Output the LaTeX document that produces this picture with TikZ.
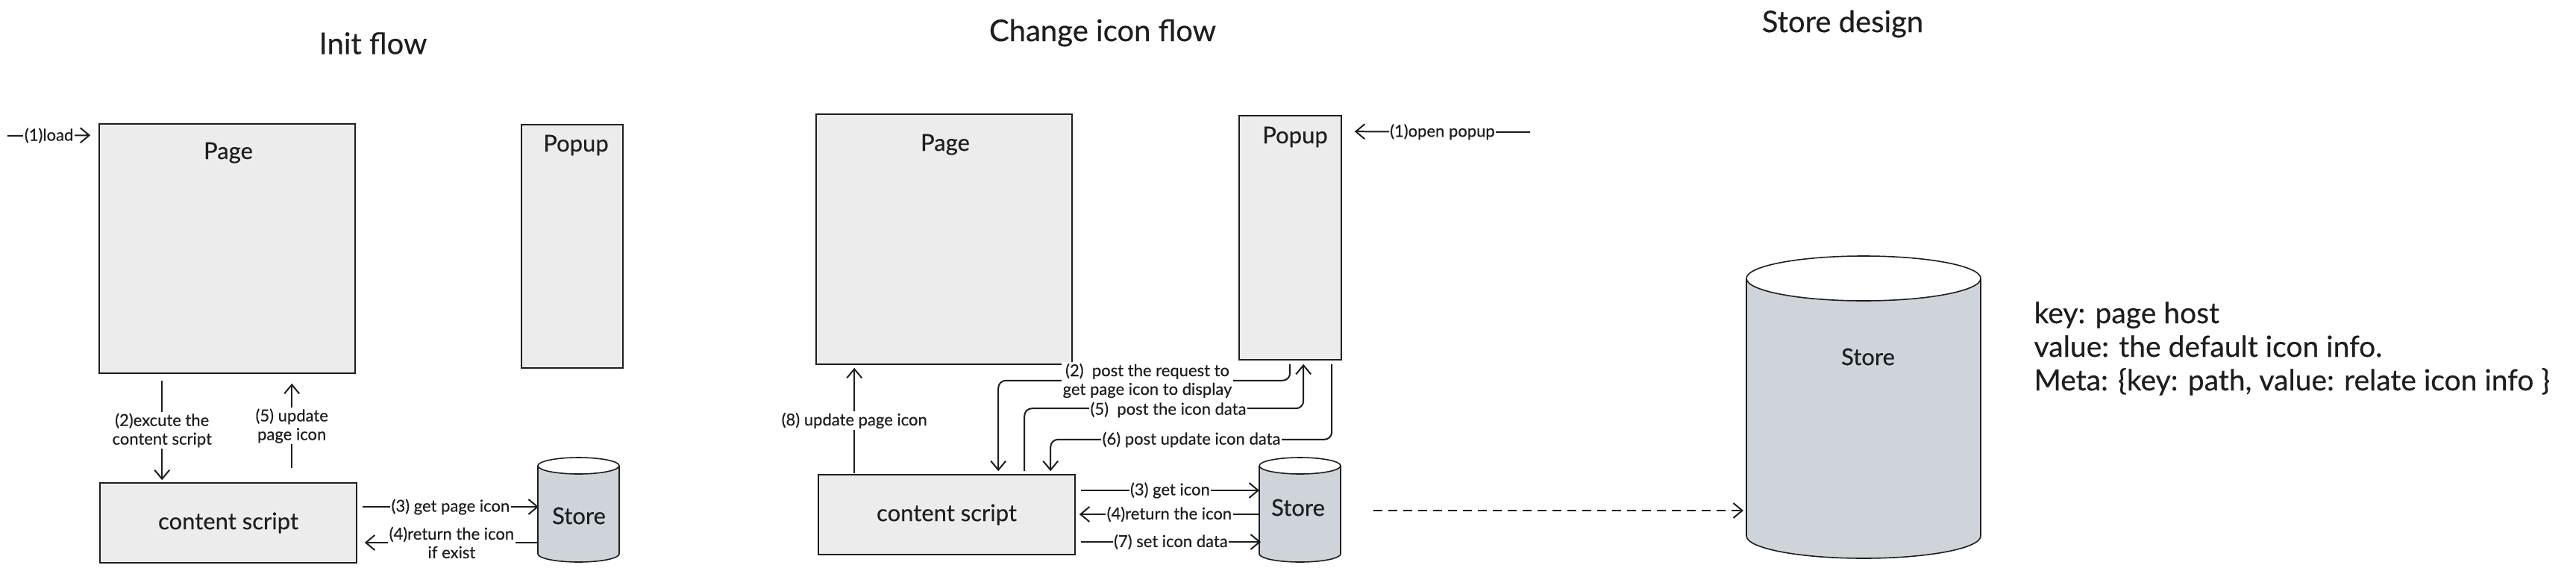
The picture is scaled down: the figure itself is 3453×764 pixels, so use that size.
\documentclass[tikz,border=0pt]{standalone}
\usepackage{fontspec}
\setmainfont{Lato}
\newfontfamily\hand{Lato}[FakeBold=0.35]
\usetikzlibrary{arrows.meta,calc}
\definecolor{ink}{HTML}{1E1E1E}
\definecolor{boxfill}{HTML}{ECECEC}
\definecolor{storefill}{HTML}{CED4DA}
\newcommand\cylbody[3]{%
  \fill[storefill] ($(#1.north west)+(0,#3)$) -- ($(#1.south west)+(0,-#3)$)
    arc[start angle=180,end angle=360,x radius=#2pt,y radius=#3pt]
    -- ($(#1.north east)+(0,#3)$) -- cycle;
  \draw[ink,line width=1.6pt] ($(#1.north west)+(0,#3)$) -- ($(#1.south west)+(0,-#3)$)
    arc[start angle=180,end angle=360,x radius=#2pt,y radius=#3pt]
    -- ($(#1.north east)+(0,#3)$);
  \draw[ink,line width=1.6pt,fill=white] ($(#1.north)+(0,#3)$) ellipse[x radius=#2pt,y radius=#3pt];
}
\begin{document}
\begin{tikzpicture}[x=1pt,y=-1pt,
  box/.style={draw=ink,fill=boxfill,line width=1.6pt,inner sep=0pt},
  ghost/.style={inner sep=0pt,outer sep=0pt},
  titletxt/.style={font=\hand\fontsize{40}{48}\selectfont,text=ink},
  boxtxt/.style={font=\hand\fontsize{31}{36}\selectfont,text=ink},
  lbl/.style={fill=white,inner sep=1.5pt,align=center,text=ink,font=\hand\fontsize{22}{25}\selectfont},
  arr/.style={draw=ink,line width=2pt,-{Straight Barb[length=12pt,width=20pt,line width=2pt]}},
  dasharr/.style={arr,dash pattern=on 12pt off 8pt}]
\fill[white] (0,0) rectangle (3453,764);
\useasboundingbox (0,0) rectangle (3453,764);

% ---------------- Init flow ----------------
\node[titletxt] (t1) at (500,58) {Init flow};
\node[box,minimum width=343pt,minimum height=334pt] (page1) at (304.5,333) {};
\node[boxtxt,anchor=base] (page1t) at (306,213) {Page};
\node[box,minimum width=136pt,minimum height=326pt] (popup1) at (767,330) {};
\node[boxtxt,anchor=base] (popup1t) at (772,203) {Popup};
\node[box,minimum width=344pt,minimum height=107pt,boxtxt] (cs1) at (306,700.5) {content script};
\node[ghost,minimum width=109pt,minimum height=140pt] (st1) at (775.5,683) {};
\cylbody{st1}{54.5}{11}
\node[boxtxt] (st1t) at (776,691) {Store};

\coordinate (ld) at (10,182);
\draw[arr] (ld) -- ($(page1.north west)+(-11,16)$) node[lbl,midway] {(1)load};
\draw[arr] ($(page1.south west)+(85,9)$) -- ($(cs1.north west)+(84,-3)$)
  node[lbl,midway] {(2)excute the\\content script};
\draw[arr] ($(cs1.north west)+(258,-19)$) -- ($(page1.south west)+(259,13)$)
  node[lbl,midway] {(5) update\\page icon};
\draw[arr] ($(cs1.east)+(7,-21.5)$) -- ($(st1.west)+(1,-4)$)
  node[lbl,midway] {(3) get page icon};
\draw[arr] ($(st1.west)+(1,44)$) -- ($(cs1.east)+(10,26.5)$)
  node[lbl,midway] {(4)return the icon\\if exist};

% ---------------- Change icon flow ----------------
\node[titletxt] (t2) at (1478,44) {Change icon flow};
\node[box,minimum width=343pt,minimum height=335pt] (page2) at (1265.5,320.5) {};
\node[boxtxt,anchor=base] (page2t) at (1267,202) {Page};
\node[box,minimum width=137pt,minimum height=327pt] (popup2) at (1729.5,318.5) {};
\node[boxtxt,anchor=base] (popup2t) at (1736,192) {Popup};
\node[box,minimum width=344pt,minimum height=107pt,boxtxt] (cs2) at (1269,689.5) {content script};
\node[ghost,minimum width=109pt,minimum height=140pt] (st2) at (1742.5,683) {};
\cylbody{st2}{54.5}{11}
\node[boxtxt] (st2t) at (1740,680) {Store};

\coordinate (op) at (2051,177);
\draw[arr] (op) -- ($(popup2.north east)+(17,22)$) node[lbl,midway] {(1)open popup};
\draw[arr] ($(cs2.north west)+(49,-1)$) -- ($(page2.south west)+(52,4)$)
  node[lbl,midway] {(8) update page icon};
\draw[arr,rounded corners=10pt] ($(popup2.south west)+(69,5)$) -- ++(0,22) -| ($(cs2.north west)+(242,-4)$);
\node[lbl] (l2) at (1538,510) {(2)\ \ post the request to\\get page icon to display};
\draw[arr,rounded corners=10pt] ($(cs2.north west)+(277,-4)$) -- ++(0,-84) -| ($(popup2.south west)+(87,5)$);
\node[lbl] (l5) at (1566,549) {(5)\ \ post the icon data};
\draw[arr,rounded corners=10pt] ($(popup2.south west)+(125,5)$) -- ++(0,101) -| ($(cs2.north west)+(312,-4)$);
\node[lbl] (l6) at (1597,589) {(6) post update icon data};
\draw[arr] ($(cs2.east)+(7,-32.5)$) -- ($(st2.west)+(0,-26)$) node[lbl,midway] {(3) get icon};
\draw[arr] ($(st2.west)+(0,6)$) -- ($(cs2.east)+(5,-0.5)$) node[lbl,midway] {(4)return the icon};
\draw[arr] ($(cs2.east)+(7,36.5)$) -- ($(st2.west)+(2,43)$) node[lbl,midway] {(7) set icon data};

% ---------------- Store design ----------------
\node[titletxt] (t3) at (2470,32) {Store design};
\node[ghost,minimum width=314pt,minimum height=405pt] (st3) at (2498,545.5) {};
\cylbody{st3}{157}{30}
\node[boxtxt] (st3t) at (2504,478) {Store};
\draw[dasharr] ($(st2.east)+(44,1)$) -- ($(st3.west)+(-4,138.5)$);
\node[anchor=west,align=left,text=ink,font=\hand\fontsize{39}{45}\selectfont] (note) at (2723,467)
  {key: page host\\value: the default icon info.\\Meta: \{key: path, value: relate icon info \}};
\end{tikzpicture}
\end{document}
